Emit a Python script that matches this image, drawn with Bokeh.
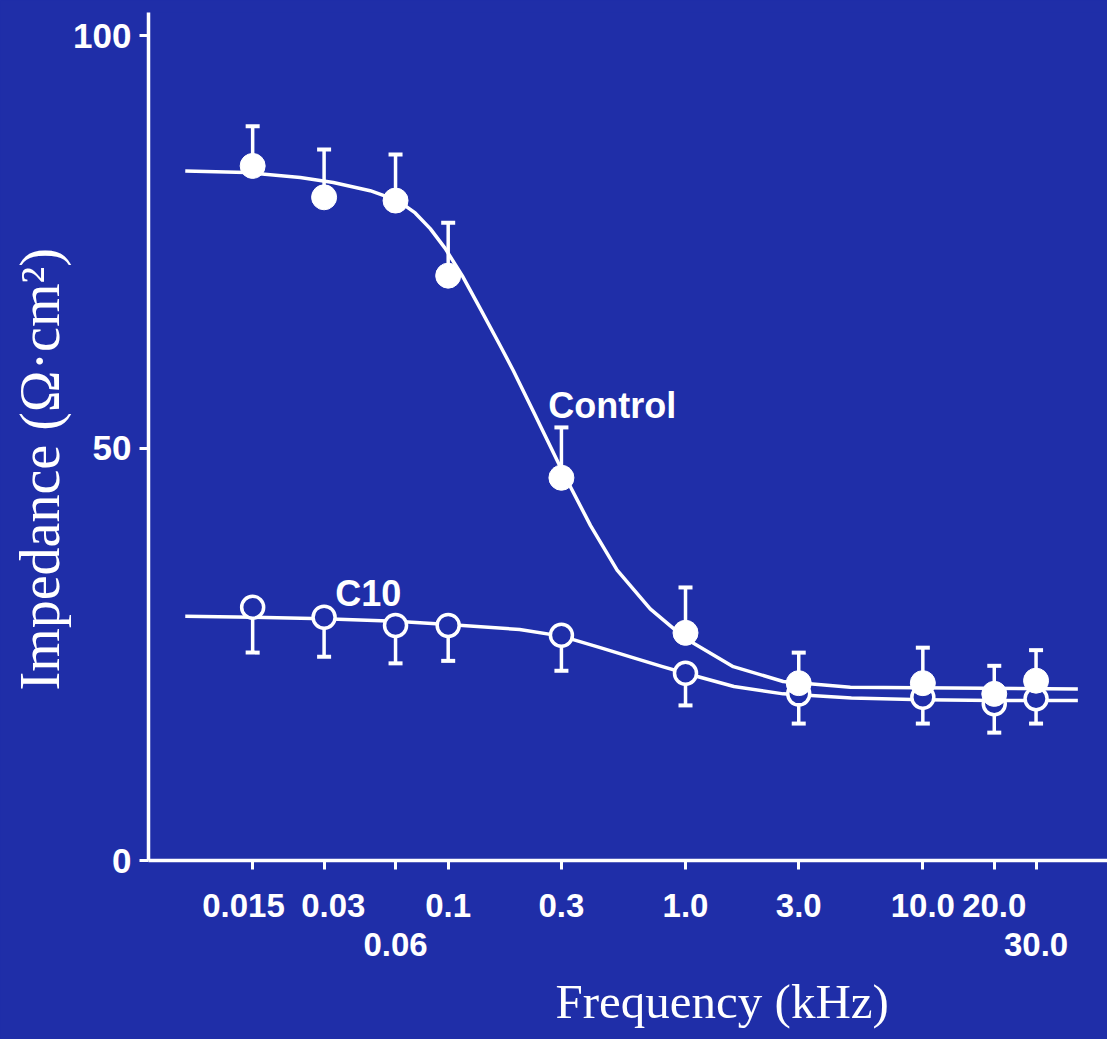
from bokeh.plotting import figure
from bokeh.models import ColumnDataSource, Range1d, FixedTicker, Label, Title
from bokeh.embed import file_html
from bokeh.resources import INLINE

# ---------------- data ----------------
freq = [0.015, 0.03, 0.06, 0.1, 0.3, 1.0, 3.0, 10.0, 20.0, 30.0]
tick_labels = ["0.015\u00a0\u00a0", "\u00a0\u00a00.03", "\n0.06", "0.1", "0.3", "1.0",
               "3.0", "10.0", "20.0", "\n30.0"]

control_mean = [84.2, 80.4, 80.0, 70.9, 46.4, 27.6, 21.5, 21.5, 20.2, 21.8]
control_err = [4.8, 5.8, 5.6, 6.4, 6.1, 5.5, 3.7, 4.3, 3.4, 3.7]

c10_mean = [30.7, 29.5, 28.5, 28.5, 27.3, 22.7, 20.2, 19.8, 19.0, 19.6]
c10_err = [5.5, 4.8, 4.6, 4.3, 4.3, 3.9, 3.6, 3.2, 3.5, 3.0]

control_fit_freq = [0.0078, 0.0141, 0.0238, 0.0328, 0.0469, 0.0614, 0.0726, 0.084, 0.0971,
                    0.1146, 0.1365, 0.1657, 0.188, 0.228, 0.305, 0.398, 0.515, 0.71,
                    1.0, 1.59, 2.58, 4.95, 45.0]
control_fit = [83.6, 83.4, 82.8, 82.2, 81.2, 80.0, 78.5, 76.6, 74.2,
               70.9, 66.9, 62.4, 59.4, 54.5, 47.0, 40.6, 35.2, 30.5,
               26.9, 23.5, 21.7, 21.0, 20.8]

c10_fit_freq = [0.0078, 0.015, 0.03, 0.06, 0.1, 0.2, 0.3, 0.437, 0.6, 0.8, 1.0,
                1.6, 2.58, 5.0, 10.0, 20.0, 45.0]
c10_fit = [29.6, 29.5, 29.3, 29.0, 28.6, 28.0, 27.2, 25.8, 24.6, 23.5, 22.7,
           21.1, 20.2, 19.7, 19.5, 19.4, 19.4]

y_ticks = [0, 50, 100]

x_title = "Frequency (kHz)"
y_title = "Impedance (Ω·cm²)"

# ---------------- styling ----------------
BG = "#1f2ea8"
WHITE = "#ffffff"
SANS = "Liberation Sans"
SERIF = "Liberation Serif"

p = figure(width=1107, height=1039, x_axis_type="log",
           x_range=Range1d(0.00546, 60), y_range=Range1d(0, 102.8),
           output_backend="svg", toolbar_location=None,
           min_border_left=148, min_border_right=0,
           min_border_top=12, min_border_bottom=179)
p.styles = {"background-color": BG}
p.background_fill_color = BG
p.border_fill_color = BG
p.outline_line_color = None
p.xgrid.grid_line_color = None
p.ygrid.grid_line_color = None

# curves
p.line(control_fit_freq, control_fit, line_color=WHITE, line_width=3.5, line_join="round")
p.line(c10_fit_freq, c10_fit, line_color=WHITE, line_width=3.5, line_join="round")

ctrl = ColumnDataSource(dict(
    x=freq, y=control_mean,
    top=[m + e for m, e in zip(control_mean, control_err)]))
c10 = ColumnDataSource(dict(
    x=freq, y=c10_mean,
    bot=[m - e for m, e in zip(c10_mean, c10_err)]))

# error bars (one-sided)
p.segment(x0="x", y0="y", x1="x", y1="top", source=ctrl, line_color=WHITE, line_width=3.5)
p.scatter(x="x", y="top", source=ctrl, marker="dash", size=14, line_color=WHITE, line_width=4)
p.segment(x0="x", y0="y", x1="x", y1="bot", source=c10, line_color=WHITE, line_width=3.5)
p.scatter(x="x", y="bot", source=c10, marker="dash", size=14, line_color=WHITE, line_width=4)

# markers
p.scatter(x="x", y="y", source=c10, marker="circle", size=22,
          fill_color=BG, line_color=WHITE, line_width=3.5)
p.scatter(x="x", y="y", source=ctrl, marker="circle", size=25,
          fill_color=WHITE, line_color=WHITE, line_width=1)

# axes
xa = p.xaxis[0]
xa.ticker = FixedTicker(ticks=freq, minor_ticks=[])
xa.major_label_overrides = {f: t for f, t in zip(freq, tick_labels)}
ya = p.yaxis[0]
ya.ticker = FixedTicker(ticks=y_ticks, minor_ticks=[])

for ax in (xa, ya):
    ax.axis_line_color = WHITE
    ax.axis_line_width = 3.5
    ax.major_tick_line_color = WHITE
    ax.major_tick_line_width = 3
    ax.major_tick_in = 0
    ax.major_tick_out = 9
    ax.minor_tick_line_color = None
    ax.major_label_text_color = WHITE
    ax.major_label_text_font = SANS
    ax.major_label_text_font_style = "bold"
xa.major_label_text_font_size = "33px"
ya.major_label_text_font_size = "35px"
xa.major_label_standoff = 17
xa.major_label_text_line_height = 1.08
ya.major_label_standoff = 8

# series labels
p.add_layout(Label(x=0.264, y=55.2, text="Control", text_color=WHITE,
                   text_font=SANS, text_font_style="bold", text_font_size="36px",
                   text_align="left", text_baseline="alphabetic"))
p.add_layout(Label(x=0.0334, y=32.4, text="C10", text_color=WHITE,
                   text_font=SANS, text_font_style="bold", text_font_size="36px",
                   text_align="left", text_baseline="alphabetic"))

# axis titles
p.add_layout(Title(text=x_title, align="left", offset=407, standoff=10,
                   text_color=WHITE, text_font=SERIF, text_font_size="49px",
                   text_font_style="normal"), "below")
p.add_layout(Title(text=y_title, align="left", offset=170, standoff=0,
                   text_color=WHITE, text_font=SERIF, text_font_size="56px",
                   text_font_style="normal"), "left")

open("out.html", "w").write(file_html(p, INLINE))
